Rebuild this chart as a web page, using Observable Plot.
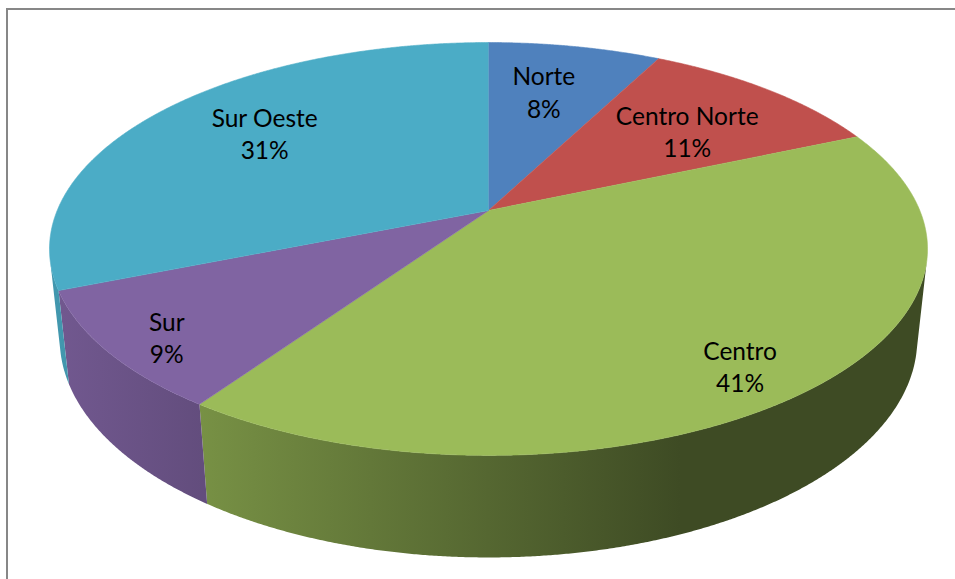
<!DOCTYPE html>
<html><head><meta charset="utf-8">
<script src="https://cdn.jsdelivr.net/npm/d3@7"></script>
<script src="https://cdn.jsdelivr.net/npm/@observablehq/plot@0.6"></script>
<style>
html,body{margin:0;padding:0;background:#fff;overflow:hidden;width:955px;height:579px;}
#frame{position:absolute;left:6px;top:8px;width:2000px;height:2000px;border-top:2px solid #878787;border-left:2px solid #878787;}
#chart{position:absolute;left:0;top:0;}
</style></head><body>
<div id="frame"></div><div id="chart"></div>
<script>
// ---- data ----
const categories = ["Norte", "Centro Norte", "Centro", "Sur", "Sur Oeste"];
const values = [7.6, 10.9, 41.1, 9.3, 31.1];
const colors = ["#4F81BD", "#C0504D", "#9BBB59", "#8064A2", "#4BACC6"];

// ---- layout (3D camera) ----
const W = 955, H = 579;
const CX = 488, CY = 210, F = 2053;
const S = 0.462, C = 0.887, D = 4.76, T = 0.238;
const labelRadius = [0.69, 0.66, 0.85, 0.875, 0.70];
const labelTurn = [-1.6, 2, 2.6, -1.6, 2.9]; // degrees

function proj(theta, r, Y) {
  const u = r * Math.sin(theta), v = -r * Math.cos(theta);
  const d = D - (Y * S + v * C);
  return {x: u / d, y: (Y * C - v * S) / d, v};
}

const total = d3.sum(values);
let acc = 0;
const slices = categories.map((name, i) => {
  const a0 = acc / total * 2 * Math.PI;
  acc += values[i];
  const a1 = acc / total * 2 * Math.PI;
  return {name, i, a0, a1, color: colors[i], pct: Math.round(values[i] / total * 100)};
});

// visible side walls: where -cos(theta) >= v0 (front-facing)
const v0 = 1 / (D * C);
const sideData = [];
slices.forEach(sl => {
  const n = Math.max(2, Math.ceil((sl.a1 - sl.a0) / (Math.PI / 720)));
  const ts = d3.range(n + 1).map(k => sl.a0 + (sl.a1 - sl.a0) * k / n).filter(t => -Math.cos(t) >= v0);
  if (ts.length < 2) return;
  ts.forEach(t => { const p = proj(t, 1, 0); sideData.push({id: sl.i, x: p.x, y: p.y, fill: `url(#side${sl.i})`}); });
  ts.slice().reverse().forEach(t => { const p = proj(t, 1, -T); sideData.push({id: sl.i, x: p.x, y: p.y, fill: `url(#side${sl.i})`}); });
});

// top faces
const topData = [];
slices.forEach(sl => {
  const c0 = proj(0, 0, 0);
  topData.push({id: sl.i, x: c0.x, y: c0.y, fill: sl.color});
  const n = Math.max(2, Math.ceil((sl.a1 - sl.a0) / (Math.PI / 720)));
  for (let k = 0; k <= n; k++) {
    const t = sl.a0 + (sl.a1 - sl.a0) * k / n;
    const p = proj(t, 1, 0);
    topData.push({id: sl.i, x: p.x, y: p.y, fill: sl.color});
  }
});

// labels
const labels = slices.map(sl => {
  const p = proj((sl.a0 + sl.a1) / 2 + labelTurn[sl.i] * Math.PI / 180, labelRadius[sl.i], 0);
  return {x: p.x, y: p.y, text: sl.name + "\n" + sl.pct + "%"};
});

const chart = Plot.plot({
  width: W, height: H,
  marginTop: 0, marginRight: 0, marginBottom: 0, marginLeft: 0,
  x: {domain: [-CX / F, (W - CX) / F], axis: null},
  y: {domain: [-(H - CY) / F, CY / F], axis: null},
  color: {type: "identity"},
  style: {background: "transparent"},
  marks: [
    Plot.line(sideData, {x: "x", y: "y", z: "id", fill: "fill", stroke: "none"}),
    Plot.line(topData, {x: "x", y: "y", z: "id", fill: "fill", stroke: "fill", strokeWidth: 0.6}),
    Plot.text(labels, {x: "x", y: "y", text: "text", fontSize: 24.5, fontFamily: "Lato", lineHeight: 1.32, fill: "#000"})
  ]
});

// shading gradients for the side walls
const svg = chart.tagName.toLowerCase() === "svg" ? chart : chart.querySelector("svg");
const ns = "http://www.w3.org/2000/svg";
const defs = document.createElementNS(ns, "defs");
slices.forEach(sl => {
  const g = document.createElementNS(ns, "linearGradient");
  g.setAttribute("id", `side${sl.i}`);
  g.setAttribute("gradientUnits", "userSpaceOnUse");
  g.setAttribute("x1", 60); g.setAttribute("x2", 680);
  g.setAttribute("y1", 0); g.setAttribute("y2", 0);
  const base = d3.rgb(sl.color);
  [[0, 0.88], [1, 0.40]].forEach(([o, k]) => {
    const st = document.createElementNS(ns, "stop");
    st.setAttribute("offset", o);
    st.setAttribute("stop-color", d3.rgb(base.r * k, base.g * k, base.b * k).formatHex());
    g.appendChild(st);
  });
  defs.appendChild(g);
});
svg.insertBefore(defs, svg.firstChild);
document.getElementById("chart").appendChild(chart);
</script>
</body></html>
